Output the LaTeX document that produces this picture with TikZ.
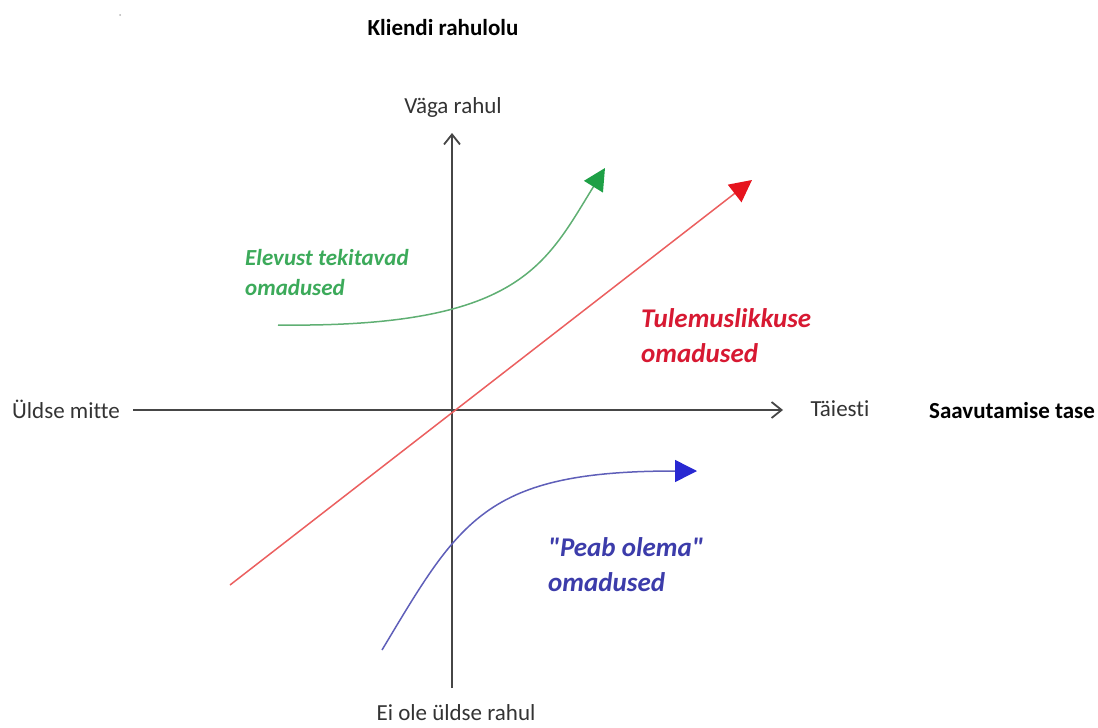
\documentclass[tikz,border=0pt]{standalone}
\usepackage{fontspec}
\setmainfont{Carlito}[Ligatures={TeXOff,NoCommon}]
\usetikzlibrary{arrows.meta}
\definecolor{axisgray}{RGB}{70,70,70}
\definecolor{gline}{RGB}{95,175,115}
\definecolor{ghead}{RGB}{30,160,70}
\definecolor{gtext}{RGB}{60,170,90}
\definecolor{rline}{RGB}{235,95,95}
\definecolor{rhead}{RGB}{230,20,30}
\definecolor{rtext}{RGB}{215,25,50}
\definecolor{bline}{RGB}{95,95,185}
\definecolor{bhead}{RGB}{40,40,210}
\definecolor{btext}{RGB}{60,60,170}
\begin{document}
\begin{tikzpicture}[x=1pt,y=-1pt,
  lbl/.style={inner sep=0pt,font=\fontsize{23}{28}\selectfont,text=black!80},
  blbl/.style={inner sep=0pt,font=\fontsize{23}{28}\selectfont\bfseries,text=black},
  axisline/.style={draw=axisgray,line width=1.8pt,-{Straight Barb[length=10pt,width=16pt,line width=1.8pt]}},
  curvearrow/.style={line width=1.5pt,-{Triangle[length=22pt,width=22pt,fill=#1,color=#1]}},
  clabel/.style={inner sep=0pt,anchor=west,align=left,font=\bfseries\itshape}]
\useasboundingbox (0,0) rectangle (1098,728);
\fill[gray!60] (120,15) circle (1pt);
% titles and axis labels
\node[blbl] (kr) at (443,28) {Kliendi rahulolu};
\node[lbl] (vr) at (453,107) {Väga rahul};
\node[lbl] (um) at (66,409) {Üldse mitte};
\node[lbl] (ta) at (840,409) {Täiesti};
\node[blbl] (st) at (1012,411) {Saavutamise tase};
\node[lbl] (eo) at (456,713) {Ei ole üldse rahul};
% axes
\coordinate (vbot) at (452,688);
\coordinate (vtop) at (452,133);
\coordinate (hl) at (133,410);
\coordinate (hr) at (783,410);
\draw[axisline] (vbot) -- (vtop);
\draw[axisline] (hl) -- (hr);
% curves
\coordinate (rs) at (230,585);
\coordinate (re) at (752,180);
\draw[rline,curvearrow=rhead] (rs) -- (re);
\coordinate (gs) at (278,325);
\coordinate (ge) at (605,168);
\draw[gline,curvearrow=ghead] (gs) .. controls (520,328) and (545,265) .. (ge);
\coordinate (bs) at (382,650);
\coordinate (be) at (697,471);
\draw[bline,curvearrow=bhead] (bs) .. controls (460,520) and (485,471) .. (be);
% curve labels
\node[clabel,text=gtext,font=\fontsize{23}{30}\selectfont\bfseries\itshape] (gl) at (245,273) {Elevust tekitavad\\omadused};
\node[clabel,text=rtext,font=\fontsize{27}{35}\selectfont\bfseries\itshape] (rl) at (641,336) {Tulemuslikkuse\\omadused};
\node[clabel,text=btext,font=\fontsize{27}{35}\selectfont\bfseries\itshape] (bl) at (548,565) {"Peab olema"\\omadused};
\end{tikzpicture}
\end{document}
